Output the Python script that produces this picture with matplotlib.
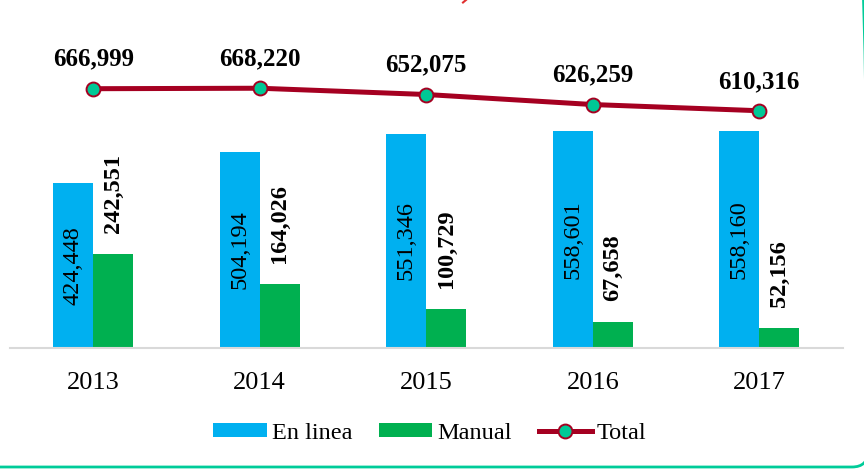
import matplotlib
matplotlib.use("Agg")
import matplotlib.pyplot as plt
from matplotlib.patches import FancyBboxPatch
from matplotlib.lines import Line2D
import numpy as np

years = ["2013", "2014", "2015", "2016", "2017"]
en_linea = [424448, 504194, 551346, 558601, 558160]
manual = [242551, 164026, 100729, 67658, 52156]
total = [666999, 668220, 652075, 626259, 610316]

plt.rcParams['font.family'] = ['Liberation Serif', 'DejaVu Serif']

W, H = 864, 469
fig = plt.figure(figsize=(W / 100, H / 100), dpi=100)
ax = fig.add_axes([10 / W, (H - 348) / H, 832.5 / W, 311 / H])

x = np.arange(len(years))
bw = 0.24
blue = "#00B0F0"
green = "#00B050"
red = "#A50021"

hb = ax.bar(x - bw / 2, en_linea, bw, color=blue, label="En linea", zorder=2)
hm = ax.bar(x + bw / 2, manual, bw, color=green, label="Manual", zorder=2)
ht, = ax.plot(x, total, color=red, lw=3.6, marker='o', ms=10, mfc="#00C896",
              mec=red, mew=1.4, label="Total", zorder=3)

for i in range(len(years)):
    ax.text(x[i] - bw / 2, en_linea[i] / 2, f"{en_linea[i]:,}", rotation=90,
            ha='center', va='center', fontsize=17.5, color='black', zorder=4)
    ax.annotate(f"{manual[i]:,}", (x[i] + bw / 2, manual[i]), xytext=(0, 15),
                textcoords='offset points', rotation=90, ha='center', va='bottom',
                fontsize=17.5, fontweight='bold', color='black')
    ax.annotate(f"{total[i]:,}", (x[i], total[i]), xytext=(0, 16.5),
                textcoords='offset points', ha='center', va='baseline',
                fontsize=18, fontweight='bold', color='black')

ax.set_xlim(-0.5, len(years) - 0.5)
ax.set_ylim(0, 800000)
ax.set_xticks(x)
ax.set_xticklabels(years, fontsize=19)
ax.tick_params(axis='x', length=0, pad=17)
ax.set_yticks([])
for s in ['top', 'right', 'left']:
    ax.spines[s].set_visible(False)
ax.spines['bottom'].set_color('#D9D9D9')
ax.spines['bottom'].set_linewidth(1.5)

fig.legend([hb, hm, ht], ["En linea", "Manual", "Total"], loc='center',
           bbox_to_anchor=(430 / W, (H - 433) / H), ncol=3,
           frameon=False, fontsize=17.5, handlelength=2.2, handleheight=0.5,
           handletextpad=0.2, columnspacing=1.1, borderaxespad=0)

# rounded frame of the original slide (only the bottom edge and corner show)
frame = FancyBboxPatch((-0.5, 0.02), 0.5 + 8.68, 6.0,
                       boxstyle="round,pad=0,rounding_size=0.16",
                       transform=fig.dpi_scale_trans, fill=False,
                       edgecolor="#00CC99", lw=2.0, clip_on=False)
fig.patches.append(frame)
fig.lines.append(Line2D([463 / W, 466 / W], [(H - 2.5) / H, 1.0], transform=fig.transFigure,
                        color='#E03030', lw=1.5))

fig.savefig("out.png", dpi=100)
